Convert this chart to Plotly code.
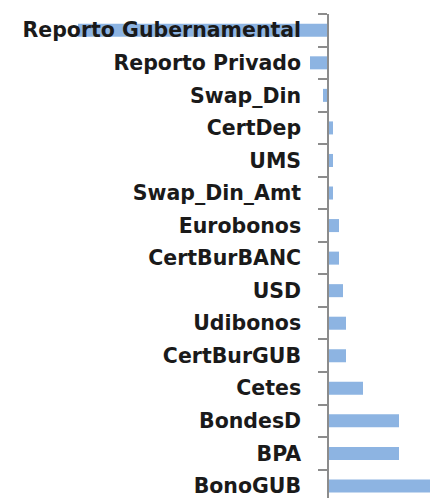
import plotly.graph_objects as go

categories = ["Reporto Gubernamental", "Reporto Privado", "Swap_Din", "CertDep", "UMS",
              "Swap_Din_Amt", "Eurobonos", "CertBurBANC", "USD", "Udibonos",
              "CertBurGUB", "Cetes", "BondesD", "BPA", "BonoGUB"]
values = [-250, -18, -5, 5, 5, 5, 11, 11, 15, 18, 18, 35, 71, 71, 125]

x_min, x_max = -320, 118
zero_pos = (0 - x_min) / (x_max - x_min)

fig = go.Figure(go.Bar(
    y=categories, x=values, orientation="h",
    marker=dict(color="#8DB4E2", line=dict(width=0)),
    width=0.4,
))

fig.update_layout(
    width=438, height=490,
    margin=dict(l=0, r=0, t=6, b=0, autoexpand=False),
    paper_bgcolor="white", plot_bgcolor="white",
    showlegend=False,
    xaxis=dict(range=[x_min, x_max], showticklabels=False, showgrid=False,
               zeroline=False, showline=False, ticks="", automargin=False),
    yaxis=dict(type="category", range=[14.37, -0.5], anchor="free", position=zero_pos,
               automargin=False,
               showline=True, linecolor="#8C8C8C", linewidth=1.5,
               ticks="outside", ticklen=9, tickcolor="#8C8C8C", tickwidth=1.5,
               tickson="boundaries", showgrid=False, zeroline=False,
               ticklabelstandoff=22,
               tickfont=dict(family="DejaVu Sans", size=20.5, color="#1A1A1A", weight="bold")),
)

fig.write_html("out.html")
